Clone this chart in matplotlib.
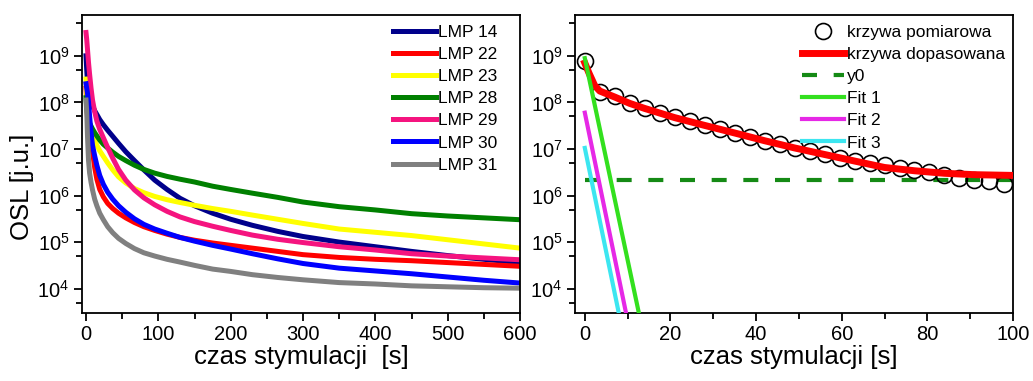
import matplotlib
matplotlib.use('Agg')
import numpy as np
import matplotlib.pyplot as plt
from matplotlib.ticker import LogLocator, NullFormatter, MultipleLocator

plt.rcParams['font.family'] = ['Liberation Sans', 'DejaVu Sans']
plt.rcParams['mathtext.fontset'] = 'custom'
plt.rcParams['mathtext.rm'] = 'Liberation Sans'

# --- lewy wykres: krzywe OSL probek LMP (wartosci jako log10 OSL) ---
czas = [0, 1, 2, 3.5, 5, 7, 9, 12, 15, 19, 24, 30, 37, 45, 55, 67, 80, 95, 112, 130,
        150, 175, 200, 230, 265, 300, 350, 400, 450, 500, 550, 600]
log_lmp_14 = [9.0, 8.7, 8.45, 8.25, 8.12, 8.02, 7.93, 7.82, 7.74, 7.63, 7.52, 7.40, 7.27,
              7.12, 6.94, 6.75, 6.55, 6.33, 6.13, 5.94, 5.78, 5.62, 5.49, 5.36, 5.23,
              5.12, 5.00, 4.90, 4.80, 4.71, 4.63, 4.56]
log_lmp_22 = [8.3, 8.0, 7.7, 7.4, 7.25, 7.1, 6.95, 6.6, 6.35, 6.13, 5.97, 5.83, 5.72,
              5.62, 5.52, 5.42, 5.33, 5.25, 5.17, 5.10, 5.04, 4.98, 4.93, 4.87, 4.80,
              4.73, 4.67, 4.63, 4.60, 4.56, 4.52, 4.48]
log_lmp_23 = [8.5, 8.2, 7.95, 7.7, 7.55, 7.42, 7.32, 7.19, 7.08, 6.96, 6.84, 6.70, 6.55,
              6.40, 6.27, 6.15, 6.06, 5.98, 5.91, 5.85, 5.79, 5.72, 5.66, 5.58, 5.49,
              5.40, 5.28, 5.21, 5.14, 5.05, 4.96, 4.87]
log_lmp_28 = [8.1, 7.9, 7.75, 7.62, 7.55, 7.49, 7.43, 7.35, 7.28, 7.19, 7.10, 7.02, 6.93,
              6.84, 6.75, 6.65, 6.56, 6.48, 6.41, 6.35, 6.29, 6.20, 6.13, 6.05, 5.96,
              5.86, 5.76, 5.69, 5.61, 5.56, 5.52, 5.48]
log_lmp_29 = [9.5, 9.35, 9.15, 8.85, 8.6, 8.3, 8.05, 7.8, 7.6, 7.42, 7.24, 7.03, 6.80,
              6.56, 6.33, 6.12, 5.95, 5.80, 5.66, 5.54, 5.44, 5.34, 5.25, 5.15, 5.06,
              4.99, 4.90, 4.83, 4.75, 4.70, 4.66, 4.62]
log_lmp_30 = [8.4, 8.3, 8.2, 8.0, 7.7, 7.35, 7.08, 6.85, 6.65, 6.43, 6.24, 6.07, 5.92,
              5.78, 5.64, 5.50, 5.38, 5.28, 5.19, 5.10, 5.02, 4.93, 4.85, 4.75, 4.64,
              4.54, 4.44, 4.38, 4.32, 4.25, 4.18, 4.12]
log_lmp_31 = [8.05, 7.8, 7.3, 6.75, 6.48, 6.28, 6.12, 5.92, 5.78, 5.62, 5.48, 5.33, 5.20,
              5.08, 4.97, 4.86, 4.77, 4.70, 4.63, 4.57, 4.50, 4.42, 4.37, 4.30, 4.24,
              4.19, 4.13, 4.10, 4.06, 4.04, 4.02, 4.01]
nazwy = ['LMP 14', 'LMP 22', 'LMP 23', 'LMP 28', 'LMP 29', 'LMP 30', 'LMP 31']
kolory = ['#00008b', '#ff0000', '#ffff00', '#008000', '#f5147f', '#0000ff', '#808080']

# --- prawy wykres: dopasowanie ---
t_pom = [0, 3.5, 7, 10.5, 14, 17.5, 21, 24.5, 28, 31.5, 35, 38.5, 42, 45.5, 49,
         52.5, 56, 59.5, 63, 66.5, 70, 73.5, 77, 80.5, 84, 87.5, 91, 94.5, 98]
osl_pom = [7.8e8, 1.7e8, 1.35e8, 9.5e7, 7.6e7, 5.9e7, 4.8e7, 3.9e7, 3.2e7, 2.7e7,
           2.2e7, 1.8e7, 1.5e7, 1.3e7, 1.05e7, 8.9e6, 7.6e6, 6.3e6, 5.6e6, 5.0e6,
           4.5e6, 3.9e6, 3.5e6, 3.2e6, 2.7e6, 2.4e6, 2.2e6, 2.0e6, 1.8e6]
t_dop = [0, 1, 2.3, 3.5, 7, 10.5, 14, 21, 28, 35, 42, 49, 56, 63, 70, 77, 84, 91, 100]
osl_dop = [7.0e8, 4.2e8, 2.3e8, 1.75e8, 1.3e8, 9.5e7, 7.4e7, 4.7e7, 3.2e7, 2.2e7,
           1.5e7, 1.05e7, 7.6e6, 5.5e6, 4.0e6, 3.4e6, 3.0e6, 2.8e6, 2.7e6]
y0 = 2.2e6
fit1_t, fit1 = [0, 14], [8.9e8, 7.6e2]
fit2_t, fit2 = [0, 11], [6.0e7, 7.3e2]
fit3_t, fit3 = [0, 9], [1.05e7, 1.0e3]


def styl_osi(ax):
    ax.set_yscale('log')
    ax.set_ylim(3e3, 7.5e9)
    ax.yaxis.set_major_locator(LogLocator(base=10, subs=(1.0,), numticks=20))
    ax.yaxis.set_minor_locator(LogLocator(base=10, subs=(5.0,), numticks=20))
    ax.yaxis.set_minor_formatter(NullFormatter())
    ax.tick_params(which='both', direction='out', width=1.3, top=False, right=False,
                   labelsize=14.5, pad=3)
    ax.tick_params(which='major', length=6)
    ax.tick_params(which='minor', length=4)
    for s in ax.spines.values():
        s.set_linewidth(1.3)


def legenda(ax, uchwyty, etykiety, x):
    ax.legend(uchwyty, etykiety, loc='upper left', bbox_to_anchor=(x, 0.967),
              frameon=False, fontsize=12.5, handlelength=2.45, handletextpad=0.15,
              labelspacing=0.4, borderpad=0, borderaxespad=0)


fig = plt.figure(figsize=(10.33, 3.81), dpi=100)
ax1 = fig.add_axes([0.0794, 0.1785, 0.424, 0.782])
ax2 = fig.add_axes([0.5566, 0.1785, 0.424, 0.782])

# lewy
serie = [log_lmp_14, log_lmp_22, log_lmp_23, log_lmp_28, log_lmp_29, log_lmp_30, log_lmp_31]
for seria, nazwa, kolor in zip(serie, nazwy, kolory):
    ax1.plot(czas, np.power(10.0, seria), color=kolor, lw=3.6, label=nazwa)
styl_osi(ax1)
ax1.set_xlim(-5.5, 600)
ax1.xaxis.set_major_locator(MultipleLocator(100))
ax1.xaxis.set_minor_locator(MultipleLocator(50))
ax1.set_xlabel('czas stymulacji  [s]', fontsize=18.5, labelpad=0.5)
ax1.set_ylabel('OSL [j.u.]', fontsize=18.5)
ax1.yaxis.set_label_coords(-0.11, 0.423)
h, l = ax1.get_legend_handles_labels()
legenda(ax1, h, l, 0.71)

# prawy
ax2.plot(t_dop, osl_dop, color='#ff0000', lw=5, zorder=3, label='krzywa dopasowana')
ax2.plot(t_pom, osl_pom, 'o', mfc='none', mec='black', mew=1.2, ms=11.5, zorder=2,
         label='krzywa pomiarowa')
ax2.plot([0, 100], [y0, y0], color='#158a15', lw=3, dashes=(3.6, 4.0), zorder=1, label='y0')
ax2.plot(fit1_t, fit1, color='#33e01e', lw=3, zorder=4, label='Fit 1')
ax2.plot(fit2_t, fit2, color='#e628e6', lw=3, zorder=4, label='Fit 2')
ax2.plot(fit3_t, fit3, color='#3ce6f0', lw=3, zorder=4, label='Fit 3')
styl_osi(ax2)
ax2.set_xlim(-2.3, 100)
ax2.xaxis.set_major_locator(MultipleLocator(20))
ax2.xaxis.set_minor_locator(MultipleLocator(10))
ax2.set_xlabel('czas stymulacji [s]', fontsize=18.5, labelpad=0.5)
h, l = ax2.get_legend_handles_labels()
kolejnosc = [1, 0, 2, 3, 4, 5]
legenda(ax2, [h[i] for i in kolejnosc], [l[i] for i in kolejnosc], 0.518)

fig.savefig('out.png', dpi=100)
